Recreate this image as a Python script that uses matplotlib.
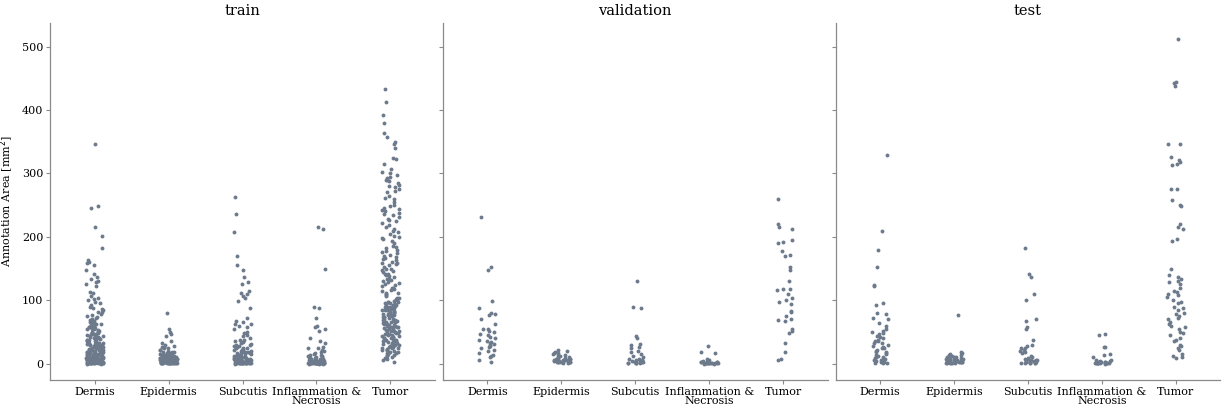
import matplotlib
matplotlib.use("Agg")
import matplotlib.pyplot as plt
import numpy as np
import pandas as pd
import seaborn as sns

tissues = ["Dermis", "Epidermis", "Subcutis", "Inflammation &\nNecrosis", "Tumor"]
splits = ["train", "validation", "test"]

# annotation areas in mm^2
train_dermis = [347, 248, 245, 216, 202, 183, 163, 160, 158, 155, 147, 141, 137, 133, 131, 129, 125, 122,
                113, 111, 106, 104, 102, 100, 98, 95, 92, 90, 88, 86, 84, 82, 81, 79, 77, 75, 74, 72, 70,
                69, 68, 67, 66, 65, 64, 63, 62, 61, 60, 59, 58, 57, 56, 55, 55, 54, 53, 52, 51, 50, 50, 49,
                48, 47, 46, 46, 45, 44, 43, 42, 42, 41, 40, 40, 39, 38, 37, 37, 36, 35, 35, 34, 33, 33, 32,
                31, 31, 30, 30, 29, 28, 28, 27, 27, 26, 25, 25, 24, 24, 23, 22, 22, 21, 21, 20, 20, 19, 19,
                18, 18, 17, 17, 16, 16, 15, 15, 15, 14, 14, 13, 13, 13, 12, 12, 11, 11, 11, 10, 10, 10, 9,
                9, 9, 8, 8, 8, 7, 7, 7, 6, 6, 6, 6, 5, 5, 5, 5, 4, 4, 4, 4, 3, 3, 3, 3, 2, 2, 2, 2, 2, 1.5,
                1.5, 1, 1, 1, 1, 0.8, 0.6, 0.5, 0.5, 0.4, 0.3, 0.3, 0.2, 0.2, 0.1, 0.1, 36, 33, 29, 26, 23,
                21, 18, 14, 12, 9, 7, 5, 3, 2, 1, 0.5, 44, 39, 31, 27, 19, 16, 11, 8, 6, 4, 2, 1]
train_epidermis = [80, 54, 50, 47, 44, 35, 32, 30, 28, 27, 26, 25, 24, 22, 21, 20, 19, 18, 18, 17, 16, 16,
                   15, 15, 14, 14, 13, 13, 12, 12, 12, 11, 11, 11, 10, 10, 10, 9, 9, 9, 9, 8, 8, 8, 8, 7,
                   7, 7, 7, 7, 6, 6, 6, 6, 6, 5, 5, 5, 5, 5, 5, 4, 4, 4, 4, 4, 4, 3, 3, 3, 3, 3, 3, 3, 2, 2,
                   2, 2, 2, 2, 2, 1.5, 1.5, 1.5, 1, 1, 1, 1, 1, 0.8, 0.8, 0.6, 0.5, 0.5, 0.4, 0.3, 0.3, 0.2,
                   13, 11, 9, 8, 6, 5, 4, 3, 2, 1]
train_subcutis = [263, 236, 208, 169, 156, 147, 137, 128, 126, 115, 112, 110, 107, 103, 99, 87, 72, 68, 66,
                  63, 62, 60, 58, 54, 50, 48, 45, 43, 40, 38, 37, 35, 34, 32, 31, 30, 29, 28, 27, 26, 25,
                  24, 23, 22, 21, 20, 20, 19, 18, 17, 16, 16, 15, 14, 14, 13, 12, 12, 11, 11, 10, 10, 9, 9,
                  8, 8, 8, 7, 7, 7, 6, 6, 6, 5, 5, 5, 5, 4, 4, 4, 4, 3, 3, 3, 3, 3, 2, 2, 2, 2, 2, 1.5, 1.5,
                  1, 1, 1, 1, 0.8, 0.6, 0.5, 0.5, 0.4, 0.3, 0.2, 0.2, 0.1, 28, 24, 19, 15, 12, 9, 6, 4, 2,
                  1, 0.5, 0.3]
train_inflammation = [216, 212, 149, 89, 87, 72, 60, 57, 54, 52, 40, 36, 33, 27, 25, 24, 22, 20, 18, 16,
                      15, 14, 13, 12, 11, 10, 10, 9, 9, 8, 8, 7, 7, 6, 6, 6, 5, 5, 5, 4, 4, 4, 4, 3, 3, 3, 3,
                      3, 2, 2, 2, 2, 2, 2, 1.5, 1.5, 1.5, 1, 1, 1, 1, 1, 0.8, 0.8, 0.6, 0.6, 0.5, 0.5, 0.4,
                      0.4, 0.3, 0.3, 0.3, 0.2, 0.2, 0.2, 0.1, 0.1, 0.1, 12, 7, 4, 2, 1, 0.5]
train_tumor = [433, 413, 392, 379, 364, 358, 350, 346, 340, 325, 323, 315, 307, 302, 300, 297, 295, 293,
               290, 288, 285, 282, 278, 275, 272, 270, 265, 260, 255, 250, 248, 246, 244, 240, 238, 236,
               232, 228, 225, 222, 219, 216, 213, 210, 205, 202, 199, 196, 193, 190, 186, 182, 180, 178,
               175, 172, 170, 168, 165, 163, 161, 159, 157, 155, 152, 150, 148, 146, 144, 142, 140, 138,
               136, 134, 132, 130, 128, 126, 124, 122, 120, 118, 116, 114, 112, 110, 108, 106, 104, 102,
               100, 99, 98, 97, 96, 95, 94, 93, 92, 91, 90, 89, 88, 87, 86, 85, 84, 83, 82, 81, 80, 79, 78,
               77, 76, 75, 74, 73, 72, 71, 70, 69, 68, 67, 66, 65, 64, 63, 62, 61, 60, 59, 58, 57, 56, 55,
               54, 53, 52, 51, 50, 49, 48, 47, 46, 45, 44, 43, 42, 41, 40, 39, 38, 37, 36, 35, 34, 33, 32,
               31, 30, 29, 28, 27, 26, 25, 24, 23, 22, 21, 20, 19, 18, 17, 16, 15, 13, 12, 10, 8, 6, 3,
               290, 280, 262, 242, 234, 226, 208, 198, 184, 176, 166, 158, 149, 141, 133, 127, 119, 111,
               103, 97, 93, 89, 85, 81, 77, 73, 69, 65, 61, 57, 53, 49, 45, 41, 37, 33, 29, 25, 21, 14, 9,
               92, 88, 84, 76, 66, 58, 52, 46, 42, 38, 34, 30, 26]

val_dermis = [231, 152, 147, 99, 88, 80, 78, 76, 70, 62, 55, 54, 52, 50, 46, 45, 42, 40, 38, 36, 34, 33,
              31, 30, 28, 26, 25, 22, 20, 17, 14, 12, 10, 5, 3]
val_epidermis = [22, 20, 18, 17, 16, 15, 14, 13, 12, 11, 10, 9, 8, 8, 7, 7, 6, 6, 5, 5, 5, 4, 4, 4, 3, 3,
                 3, 2, 2, 2, 1, 1]
val_subcutis = [131, 90, 87, 44, 40, 31, 30, 26, 25, 20, 18, 15, 12, 10, 8, 7, 6, 5, 5, 4, 4, 3, 3, 2, 2,
                2, 1, 1, 1, 0.5, 0.5, 0.3]
val_inflammation = [28, 19, 17, 8, 6, 5, 4, 3, 3, 2, 2, 2, 1.5, 1, 1, 1, 0.8, 0.6, 0.5, 0.4, 0.3, 0.3,
                    0.2, 0.2, 0.1, 0.1]
val_tumor = [260, 221, 216, 213, 195, 192, 190, 177, 172, 170, 153, 148, 130, 118, 117, 116, 110, 103, 100,
             98, 94, 83, 82, 75, 70, 69, 68, 55, 52, 48, 33, 18, 7, 6]

test_dermis = [329, 210, 180, 152, 124, 122, 95, 92, 80, 78, 72, 70, 64, 60, 55, 52, 50, 48, 46, 44, 42,
               40, 38, 36, 35, 33, 32, 30, 28, 27, 25, 24, 22, 20, 19, 18, 16, 15, 14, 12, 11, 10, 9, 8, 7,
               6, 5, 4, 3, 2, 1, 1, 0.5]
test_epidermis = [77, 18, 17, 15, 14, 13, 12, 11, 10, 10, 9, 9, 8, 8, 7, 7, 6, 6, 5, 5, 5, 4, 4, 4, 3, 3,
                  3, 3, 2, 2, 2, 2, 1, 1, 1, 1, 0.5, 0.5]
test_subcutis = [183, 141, 136, 110, 101, 71, 68, 57, 55, 37, 30, 28, 25, 24, 22, 20, 18, 16, 12, 10, 9, 8,
                 7, 6, 5, 5, 4, 4, 3, 3, 2, 2, 1, 1, 1, 0.5, 0.5, 0.3]
test_inflammation = [46, 45, 27, 26, 15, 13, 10, 6, 5, 4, 4, 3, 3, 2, 2, 2, 1.5, 1, 1, 1, 0.8, 0.6, 0.5,
                     0.4, 0.3, 0.2, 0.2, 0.1]
test_tumor = [512, 445, 443, 438, 347, 346, 326, 321, 318, 315, 313, 276, 275, 258, 250, 248, 220, 215, 212,
              197, 193, 150, 140, 136, 133, 130, 128, 125, 120, 115, 113, 110, 108, 105, 100, 97, 95, 90,
              88, 85, 80, 78, 75, 72, 70, 65, 62, 60, 58, 55, 50, 48, 45, 40, 38, 35, 30, 28, 25, 22, 15,
              12, 10, 9]

data = {
    "train": [train_dermis, train_epidermis, train_subcutis, train_inflammation, train_tumor],
    "validation": [val_dermis, val_epidermis, val_subcutis, val_inflammation, val_tumor],
    "test": [test_dermis, test_epidermis, test_subcutis, test_inflammation, test_tumor],
}

rows = []
for split in splits:
    for tissue, vals in zip(tissues, data[split]):
        for v in vals:
            rows.append((split, tissue, v))
df = pd.DataFrame(rows, columns=["split", "tissue", "area"])

plt.rcParams["font.family"] = "DejaVu Serif"
fig, axes = plt.subplots(1, 3, figsize=(12.24, 4.08), dpi=100, sharey=True)
fig.subplots_adjust(left=0.041, right=0.997, bottom=0.069, top=0.944, wspace=0.021)

np.random.seed(3)
for ax, split in zip(axes, splits):
    sub = df[df["split"] == split]
    sns.stripplot(data=sub, x="tissue", y="area", order=tissues, ax=ax, color="#6c7a8c",
                  size=2.8, jitter=0.12, linewidth=0)
    ax.set_title(split, fontsize=10.5)
    ax.set_xlabel("")
    ax.set_ylabel("")
    for s in ["top", "right"]:
        ax.spines[s].set_visible(False)
    for s in ["left", "bottom"]:
        ax.spines[s].set_color("#8a8a8a")
        ax.spines[s].set_linewidth(0.9)
    ax.tick_params(labelsize=8, length=3, color="#8a8a8a", width=0.8, pad=2)
    for lbl in ax.get_xticklabels():
        lbl.set_linespacing(0.95)
    ax.set_xlim(-0.6, 4.6)

axes[0].set_ylim(-25.6, 537.6)
axes[0].set_yticks([0, 100, 200, 300, 400, 500])
axes[0].set_ylabel("Annotation Area [mm$^2$]", fontsize=8, labelpad=4)

fig.savefig("out.png", dpi=100)
